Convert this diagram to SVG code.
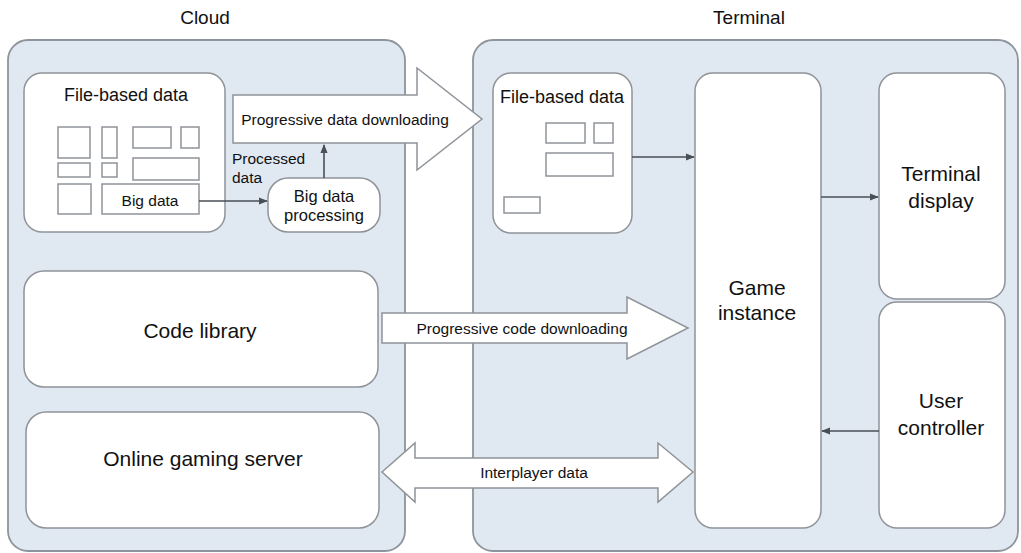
<svg xmlns="http://www.w3.org/2000/svg" width="1021" height="553" viewBox="0 0 1021 553">
<style>
.panel{fill:#e0e8f1;stroke:#8d949b;stroke-width:1.8}
.node{fill:#ffffff;stroke:#8f9398;stroke-width:1.5}
.blk{fill:none;stroke:#8f9398;stroke-width:1.5}
.big{fill:#ffffff;stroke:#8f9398;stroke-width:1.5;stroke-linejoin:miter}
.ln{fill:none;stroke:#4a4f56;stroke-width:1.6}
text{font-family:"Liberation Sans",Arial,sans-serif;fill:#111;text-anchor:middle;dominant-baseline:central}
.t21{font-size:21px}
.t19{font-size:19px}
.t18{font-size:18px}
.t16{font-size:15.5px}
.t165{font-size:16.5px}
</style>
<defs>
<marker id="ah" viewBox="0 0 10 10" refX="9" refY="5" markerWidth="9" markerHeight="9" markerUnits="userSpaceOnUse" orient="auto">
<path d="M0,1 L10,5 L0,9 z" fill="#4a4f56"/>
</marker>
</defs>
<rect width="1021" height="553" fill="#ffffff"/>
<text class="t19" x="205" y="17">Cloud</text>
<text class="t19" x="749" y="17">Terminal</text>
<g id="cloud">
<rect class="panel" x="8" y="40" width="397" height="511" rx="20"/>
</g>
<g id="terminal">
<rect class="panel" x="473" y="40" width="545" height="511" rx="20"/>
</g>
<g id="cloud-file-data">
<rect class="node" x="24" y="73" width="201" height="159" rx="18"/>
<text class="t18" x="126" y="95">File-based data</text>
<rect class="blk" x="58" y="127" width="32" height="31"/>
<rect class="blk" x="102" y="127" width="15" height="31"/>
<rect class="blk" x="133" y="127" width="38" height="21"/>
<rect class="blk" x="181" y="127" width="18" height="21"/>
<rect class="blk" x="58" y="163" width="32" height="14"/>
<rect class="blk" x="102" y="163" width="15" height="14"/>
<rect class="blk" x="133" y="158" width="66" height="22"/>
<rect class="blk" x="58" y="184" width="33" height="30"/>
</g>
<g id="big-data">
<rect class="blk" x="102" y="184" width="97" height="30"/>
<text class="t16" x="150" y="200">Big data</text>
</g>
<g id="big-data-processing">
<rect class="node" x="268" y="178" width="112" height="54" rx="20"/>
<text class="t165" x="324" y="196">Big data</text>
<text class="t165" x="324" y="215">processing</text>
</g>
<g id="code-library">
<rect class="node" x="24" y="271" width="354" height="116" rx="20"/>
<text class="t21" x="200" y="330">Code library</text>
</g>
<g id="online-gaming-server">
<rect class="node" x="26" y="412" width="353" height="116" rx="20"/>
<text class="t21" x="203" y="458">Online gaming server</text>
</g>
<g id="terminal-file-data">
<rect class="node" x="493" y="73" width="139" height="160" rx="18"/>
<text class="t18" x="562" y="97">File-based data</text>
<rect class="blk" x="546" y="123" width="39" height="20"/>
<rect class="blk" x="594" y="123" width="19" height="20"/>
<rect class="blk" x="546" y="153" width="67" height="23"/>
<rect class="blk" x="504" y="197" width="36" height="16"/>
</g>
<g id="game-instance">
<rect class="node" x="695" y="73" width="126" height="455" rx="18"/>
<text class="t21" x="757" y="287">Game</text>
<text class="t21" x="757" y="312">instance</text>
</g>
<g id="terminal-display">
<rect class="node" x="879" y="73" width="126" height="226" rx="18"/>
<text class="t21" x="941" y="173">Terminal</text>
<text class="t21" x="941" y="200">display</text>
</g>
<g id="user-controller">
<rect class="node" x="879" y="302" width="126" height="226" rx="18"/>
<text class="t21" x="941" y="400">User</text>
<text class="t21" x="941" y="427">controller</text>
</g>
<g id="connectors">
<line class="ln" x1="199" y1="201" x2="267" y2="201" marker-end="url(#ah)"/>
<line class="ln" x1="324" y1="178" x2="324" y2="145" marker-end="url(#ah)"/>
<line class="ln" x1="632" y1="157" x2="694" y2="157" marker-end="url(#ah)"/>
<line class="ln" x1="821" y1="197" x2="878" y2="197" marker-end="url(#ah)"/>
<line class="ln" x1="879" y1="431" x2="822" y2="431" marker-end="url(#ah)"/>
<polygon class="big" points="233,95 417,95 417,68 482,119 417,170 417,143 233,143"/>
<polygon class="big" points="382,313 627,313 627,297 688,328 627,359 627,343 382,343"/>
<polygon class="big" points="382,472 415,443 415,458 658,458 658,443 693,472 658,502 658,488 415,488 415,502"/>
<text class="t16" x="345" y="119">Progressive data downloading</text>
<text class="t16" x="522" y="328">Progressive code downloading</text>
<text class="t16" x="534" y="472">Interplayer data</text>
<text class="t16" x="232" y="158" style="text-anchor:start">Processed</text>
<text class="t16" x="232" y="177" style="text-anchor:start">data</text>
</g>
</svg>
